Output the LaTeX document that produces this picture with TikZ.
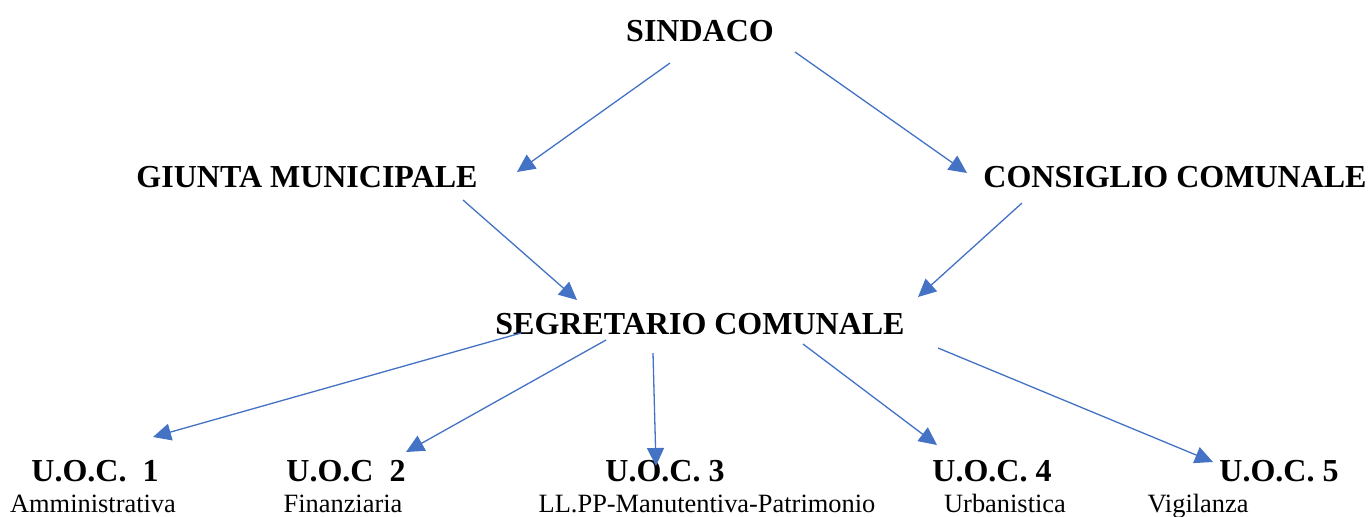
\documentclass[tikz,border=0pt]{standalone}
\usepackage{fontspec}
\setmainfont{Liberation Serif}
\usetikzlibrary{arrows.meta}
\definecolor{arrowblue}{HTML}{4472C4}
\begin{document}
\begin{tikzpicture}[x=0.5pt,y=-0.5pt,
  title/.style={anchor=base,inner sep=0pt,font=\fontsize{16}{19}\selectfont\bfseries},
  sub/.style={anchor=base,inner sep=0pt,font=\fontsize{13.2}{15}\selectfont},
  link/.style={draw=arrowblue,line width=0.65pt,-{Triangle[length=9pt,width=8.5pt]},fill=arrowblue}]
\useasboundingbox (0,0) rectangle (1369,516);
% texts
\node[title] (sindaco) at (700,41) {SINDACO};
\node[title] (giunta) at (307,187) {GIUNTA MUNICIPALE};
\node[title] (consiglio) at (1175,187) {CONSIGLIO COMUNALE};
\node[title] (segretario) at (700,334) {SEGRETARIO COMUNALE};
\node[title] (uoc1) at (95,481) {U.O.C.\ \ 1};
\node[title] (uoc2) at (346,481) {U.O.C\ \ 2};
\node[title] (uoc3) at (665,481) {U.O.C. 3};
\node[title] (uoc4) at (992,481) {U.O.C. 4};
\node[title] (uoc5) at (1279,481) {U.O.C. 5};
\node[sub] (amm) at (93,512) {Amministrativa};
\node[sub] (fin) at (343,512) {Finanziaria};
\node[sub] (llpp) at (707,512) {LL.PP-Manutentiva-Patrimonio};
\node[sub] (urb) at (1005,512) {Urbanistica};
\node[sub] (vig) at (1198,512) {Vigilanza};
% connector end points
\coordinate (sindacoL) at (670,63);
\coordinate (sindacoR) at (795,52);
\coordinate (giuntaT) at (517,172);
\coordinate (giuntaB) at (463,200);
\coordinate (consiglioT) at (967,173);
\coordinate (consiglioB) at (1022,203);
\coordinate (segretarioL) at (577,300);
\coordinate (segretarioR) at (918,297);
\coordinate (segA) at (521,333);
\coordinate (segB) at (606,340);
\coordinate (segC) at (653,353);
\coordinate (segD) at (803,344);
\coordinate (segE) at (938,348);
\coordinate (uoc1T) at (153,437);
\coordinate (uoc2T) at (406,452);
\coordinate (uoc3T) at (656,466);
\coordinate (uoc4T) at (937,445);
\coordinate (uoc5T) at (1213,462);
% connectors
\draw[link] (sindacoL) -- (giuntaT);
\draw[link] (sindacoR) -- (consiglioT);
\draw[link] (giuntaB) -- (segretarioL);
\draw[link] (consiglioB) -- (segretarioR);
\draw[link] (segA) -- (uoc1T);
\draw[link] (segB) -- (uoc2T);
\draw[link] (segC) -- (uoc3T);
\draw[link] (segD) -- (uoc4T);
\draw[link] (segE) -- (uoc5T);
\end{tikzpicture}
\end{document}
